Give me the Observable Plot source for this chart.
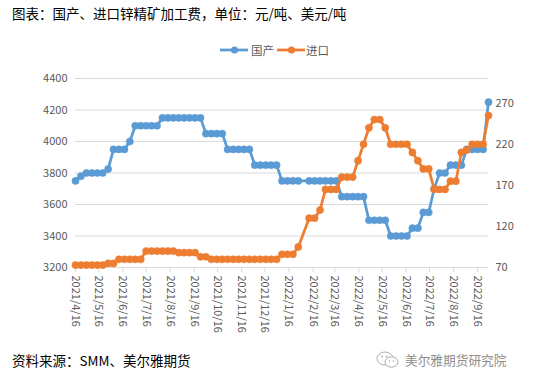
<!DOCTYPE html>
<html>
<head>
<meta charset="utf-8">
<script src="https://cdn.jsdelivr.net/npm/d3@7"></script>
<script src="https://cdn.jsdelivr.net/npm/@observablehq/plot@0.6"></script>
<style>
  body { margin: 0; background: #fff; }
  #wrap { position: relative; width: 536px; height: 381px; overflow: hidden; font-family: "Noto Sans CJK SC", "Noto Sans", sans-serif; }
  #title { position: absolute; left: 12px; top: 3px; font-size: 13.5px; line-height: 20px; color: #000; white-space: nowrap; }
  .lg { position: absolute; top: 42px; height: 16px; }
  .lgt { position: absolute; top: 41px; font-size: 11.5px; line-height: 18px; color: #595959; white-space: nowrap; }
  #chart { position: absolute; left: 0; top: 60px; }
  #footer { position: absolute; left: 12px; top: 350px; font-size: 13.5px; line-height: 20px; color: #000; white-space: nowrap; }
  #wm { position: absolute; left: 405px; top: 351px; font-size: 12.7px; line-height: 18px; color: #8c8c8c; white-space: nowrap; }
  #wmicon { position: absolute; left: 376px; top: 351px; }
</style>
</head>
<body>
<div id="wrap">
  <div id="title">图表：国产、进口锌精矿加工费，单位：元/吨、美元/吨</div>
  <div id="legend"></div>
  <div id="chart"></div>
  <div id="footer">资料来源：SMM、美尔雅期货</div>
  <svg id="wmicon" width="24" height="18" viewBox="0 0 24 18">
    <ellipse cx="9" cy="7.5" rx="8" ry="6.5" fill="none" stroke="#b0b0b0" stroke-width="1"/>
    <ellipse cx="15.5" cy="11" rx="6.5" ry="5.2" fill="#fff" stroke="#b0b0b0" stroke-width="1"/>
    <circle cx="6" cy="5.5" r="0.9" fill="#b0b0b0"/>
    <circle cx="10.5" cy="5.5" r="0.9" fill="#b0b0b0"/>
    <circle cx="13.5" cy="10" r="0.8" fill="#b0b0b0"/>
    <circle cx="17.5" cy="10" r="0.8" fill="#b0b0b0"/>
  </svg>
  <div id="wm">美尔雅期货研究院</div>
</div>
<script>
// ---- data ----
const seriesNames = ["国产", "进口"];
const seriesColors = ["#5B9BD5", "#ED7D31"];
const dates = [
  "2021-04-16","2021-04-23","2021-04-30","2021-05-07","2021-05-14","2021-05-21","2021-05-28",
  "2021-06-04","2021-06-11","2021-06-18","2021-06-25","2021-07-02","2021-07-09","2021-07-16",
  "2021-07-23","2021-07-30","2021-08-06","2021-08-13","2021-08-20","2021-08-27","2021-09-03",
  "2021-09-10","2021-09-17","2021-09-24","2021-10-01","2021-10-08","2021-10-15","2021-10-22",
  "2021-10-29","2021-11-05","2021-11-12","2021-11-19","2021-11-26","2021-12-03","2021-12-10",
  "2021-12-17","2021-12-24","2021-12-31","2022-01-07","2022-01-14","2022-01-21","2022-01-28",
  "2022-02-11","2022-02-18","2022-02-25","2022-03-04","2022-03-11","2022-03-18","2022-03-25",
  "2022-04-01","2022-04-08","2022-04-15","2022-04-22","2022-04-29","2022-05-06","2022-05-13",
  "2022-05-20","2022-05-27","2022-06-03","2022-06-10","2022-06-17","2022-06-24","2022-07-01",
  "2022-07-08","2022-07-15","2022-07-22","2022-07-29","2022-08-05","2022-08-12","2022-08-19",
  "2022-08-26","2022-09-02","2022-09-09","2022-09-16","2022-09-23","2022-09-30"
];
const domestic = [
  3750,3780,3800,3800,3800,3800,3825,
  3950,3950,3950,4000,4100,4100,4100,
  4100,4100,4150,4150,4150,4150,4150,
  4150,4150,4150,4050,4050,4050,4050,
  3950,3950,3950,3950,3950,3850,3850,
  3850,3850,3850,3750,3750,3750,3750,
  3750,3750,3750,3750,3750,3750,3650,
  3650,3650,3650,3650,3500,3500,3500,
  3500,3400,3400,3400,3400,3450,3450,
  3550,3550,3700,3800,3800,3850,3850,
  3850,3950,3950,3950,3950,4250
];
const imported = [
  73,73,73,73,73,73,75,
  75,80,80,80,80,80,90,
  90,90,90,90,90,88,88,
  88,88,83,83,80,80,80,
  80,80,80,80,80,80,80,
  80,80,80,86,86,86,95,
  130,130,140,165,165,165,180,
  180,180,200,220,240,250,250,
  240,220,220,220,220,210,200,
  190,190,165,165,165,175,175,
  210,213,220,220,220,255
];
const leftTicks = [3200, 3400, 3600, 3800, 4000, 4200, 4400];
const rightTicks = [70, 120, 170, 220, 270];
const rightDomain = [70, 300];
const xTickLabels = [
  "2021/4/16","2021/5/16","2021/6/16","2021/7/16","2021/8/16","2021/9/16",
  "2021/10/16","2021/11/16","2021/12/16","2022/1/16","2022/2/16","2022/3/16",
  "2022/4/16","2022/5/16","2022/6/16","2022/7/16","2022/8/16","2022/9/16"
];

// ---- build ----
const leftDomain = [leftTicks[0], leftTicks[leftTicks.length - 1]];
const toLeft = v => leftDomain[0] + (v - rightDomain[0]) * (leftDomain[1] - leftDomain[0]) / (rightDomain[1] - rightDomain[0]);
const parseISO = d3.utcParse("%Y-%m-%d");
const parseSlash = d3.utcParse("%Y/%m/%d");
const dom = dates.map((d, i) => ({date: parseISO(d), value: domestic[i]}));
const imp = dates.map((d, i) => ({date: parseISO(d), value: toLeft(imported[i])}));
const xTicks = xTickLabels.map(parseSlash);
const font = '"Noto Sans CJK SC", "Noto Sans", sans-serif';

const chart = Plot.plot({
  width: 536,
  height: 290,
  marginLeft: 75,
  marginRight: 48,
  marginTop: 18,
  marginBottom: 83,
  x: {type: "utc", domain: [dom[0].date, dom[dom.length - 1].date], axis: null, label: null},
  y: {domain: leftDomain, axis: null, label: null},
  style: {fontFamily: font, fontSize: "11px", color: "#595959", background: "transparent", overflow: "visible"},
  marks: [
    Plot.gridY(leftTicks, {stroke: "#d9d9d9", strokeOpacity: 1, strokeWidth: 1}),
    Plot.axisX(xTicks, {
      tickRotate: 90,
      tickSize: 5,
      tickPadding: 3,
      stroke: "#d9d9d9",
      fill: "#595959",
      label: null,
      tickFormat: (d, i) => xTickLabels[i]
    }),
    Plot.ruleY([leftDomain[0]], {stroke: "#d9d9d9", strokeWidth: 1}),
    Plot.axisY(leftTicks, {anchor: "left", tickSize: 0, tickPadding: 8, fill: "#595959", label: null,
      tickFormat: d => String(d)}),
    Plot.axisY(rightTicks.map(toLeft), {anchor: "right", tickSize: 0, tickPadding: 7, fill: "#595959", label: null,
      tickFormat: (d, i) => String(rightTicks[i])}),
    Plot.line(dom, {x: "date", y: "value", stroke: seriesColors[0], strokeWidth: 2.75}),
    Plot.dot(dom, {x: "date", y: "value", r: 3.6, fill: seriesColors[0], stroke: seriesColors[0], strokeWidth: 0.5}),
    Plot.line(imp, {x: "date", y: "value", stroke: seriesColors[1], strokeWidth: 2.75}),
    Plot.dot(imp, {x: "date", y: "value", r: 3.6, fill: seriesColors[1], stroke: seriesColors[1], strokeWidth: 0.5})
  ]
});
document.getElementById("chart").appendChild(chart);

// ---- legend ----
const legend = document.getElementById("legend");
const lgPos = [{sw: 220, tx: 251}, {sw: 277, tx: 306}];
seriesNames.forEach((name, i) => {
  const ns = "http://www.w3.org/2000/svg";
  const svg = document.createElementNS(ns, "svg");
  svg.setAttribute("class", "lg");
  svg.setAttribute("width", "29");
  svg.setAttribute("height", "16");
  svg.style.left = lgPos[i].sw + "px";
  const line = document.createElementNS(ns, "line");
  line.setAttribute("x1", "0"); line.setAttribute("x2", "28");
  line.setAttribute("y1", "8"); line.setAttribute("y2", "8");
  line.setAttribute("stroke", seriesColors[i]); line.setAttribute("stroke-width", "2.75");
  const c = document.createElementNS(ns, "circle");
  c.setAttribute("cx", "14.5"); c.setAttribute("cy", "8"); c.setAttribute("r", "3.6");
  c.setAttribute("fill", seriesColors[i]);
  svg.appendChild(line); svg.appendChild(c);
  legend.appendChild(svg);
  const t = document.createElement("div");
  t.className = "lgt";
  t.style.left = lgPos[i].tx + "px";
  t.textContent = name;
  legend.appendChild(t);
});
</script>
</body>
</html>
